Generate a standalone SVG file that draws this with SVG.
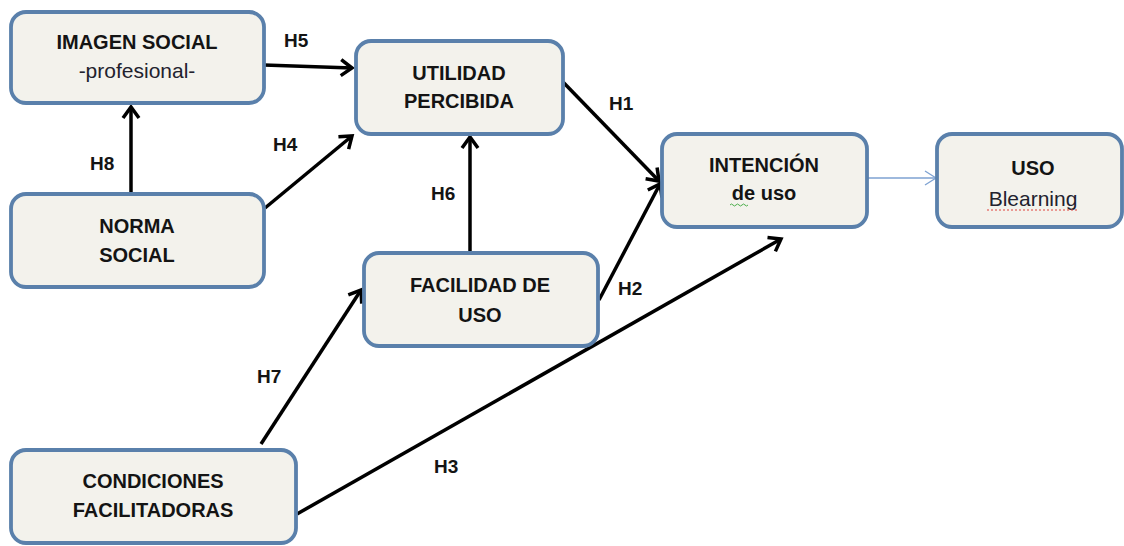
<svg xmlns="http://www.w3.org/2000/svg" width="1124" height="546" viewBox="0 0 1124 546">
<defs>
<style>
.box{fill:#f3f2ec;stroke:#5a80ab;stroke-width:3.8}
.t{font-family:"Liberation Sans",Arial,sans-serif;font-size:20px;font-weight:bold;fill:#141414;text-anchor:middle}
.r{font-family:"Liberation Sans",Arial,sans-serif;font-size:21px;font-weight:normal;fill:#22222e;text-anchor:middle}
.lbl{font-family:"Liberation Sans",Arial,sans-serif;font-size:19px;font-weight:bold;fill:#141414}
.c{stroke:#000;stroke-width:3.5;fill:none}
.cb{stroke:#7ea2d2;stroke-width:1.3;fill:none}
</style>
<marker id="ah" markerUnits="userSpaceOnUse" viewBox="-14 -12 28 24" markerWidth="28" markerHeight="24" refX="0" refY="0" orient="auto">
<path d="M-11,-8 L0,0 L-11,8" fill="none" stroke="#000" stroke-width="3.5" stroke-linejoin="miter"/>
</marker>
<marker id="ahb" markerUnits="userSpaceOnUse" viewBox="-14 -12 28 24" markerWidth="28" markerHeight="24" refX="0" refY="0" orient="auto">
<path d="M-11,-7 L0,0 L-11,7" fill="none" stroke="#7ea2d2" stroke-width="1.3"/>
</marker>
</defs>
<rect width="1124" height="546" fill="#ffffff"/>

<g id="connectors">
<line class="c" x1="264" y1="65" x2="352" y2="68" marker-end="url(#ah)"/>
<line class="c" x1="265" y1="208" x2="352" y2="136" marker-end="url(#ah)"/>
<line class="c" x1="131" y1="193" x2="131" y2="107" marker-end="url(#ah)"/>
<line class="c" x1="470" y1="252" x2="470" y2="137" marker-end="url(#ah)"/>
<line class="c" x1="563" y1="82" x2="659" y2="181" marker-end="url(#ah)"/>
<line class="c" x1="599" y1="300" x2="660" y2="184" marker-end="url(#ah)"/>
<line class="c" x1="297" y1="514" x2="781" y2="239" marker-end="url(#ah)"/>
<line class="c" x1="261" y1="444" x2="361" y2="290" marker-end="url(#ah)"/>
<line class="cb" x1="868" y1="178" x2="936" y2="178" marker-end="url(#ahb)"/>
<text class="lbl" x="284" y="47">H5</text>
<text class="lbl" x="273" y="151">H4</text>
<text class="lbl" x="90" y="170">H8</text>
<text class="lbl" x="609" y="110">H1</text>
<text class="lbl" x="431" y="200">H6</text>
<text class="lbl" x="618" y="295">H2</text>
<text class="lbl" x="257" y="383">H7</text>
<text class="lbl" x="434" y="473">H3</text>
</g>

<g id="imagen-social">
<rect class="box" x="11" y="12" width="253" height="91" rx="15"/>
<text class="t" x="137" y="49">IMAGEN SOCIAL</text>
<text class="r" x="137" y="78">-profesional-</text>
</g>

<g id="utilidad-percibida">
<rect class="box" x="356" y="41" width="207" height="93" rx="15"/>
<text class="t" x="459" y="80">UTILIDAD</text>
<text class="t" x="459" y="108">PERCIBIDA</text>
</g>

<g id="norma-social">
<rect class="box" x="11" y="194" width="253" height="93" rx="15"/>
<text class="t" x="137" y="233">NORMA</text>
<text class="t" x="137" y="262">SOCIAL</text>
</g>

<g id="facilidad-de-uso">
<rect class="box" x="364" y="253" width="234" height="93" rx="15"/>
<text class="t" x="480" y="292">FACILIDAD DE</text>
<text class="t" x="480" y="322">USO</text>
</g>

<g id="intencion-de-uso">
<rect class="box" x="662" y="134" width="205" height="93" rx="15"/>
<text class="t" x="764" y="172">INTENCIÓN</text>
<text class="t" x="764" y="200">de uso</text>
<path d="M730,205 q1.5,-2 3,0 t3,0 t3,0 t3,0 t3,0 t3,0" fill="none" stroke="#4cae4c" stroke-width="1"/>
</g>

<g id="uso-blearning">
<rect class="box" x="937" y="134" width="185" height="93" rx="15"/>
<text class="t" x="1033" y="175">USO</text>
<text class="r" x="1033" y="206">Blearning</text>
<line x1="987" y1="210" x2="1078" y2="210" stroke="#e0403a" stroke-width="1" stroke-dasharray="2,2"/>
</g>

<g id="condiciones-facilitadoras">
<rect class="box" x="11" y="450" width="285" height="93" rx="15"/>
<text class="t" x="153" y="488">CONDICIONES</text>
<text class="t" x="153" y="517">FACILITADORAS</text>
</g>
</svg>
